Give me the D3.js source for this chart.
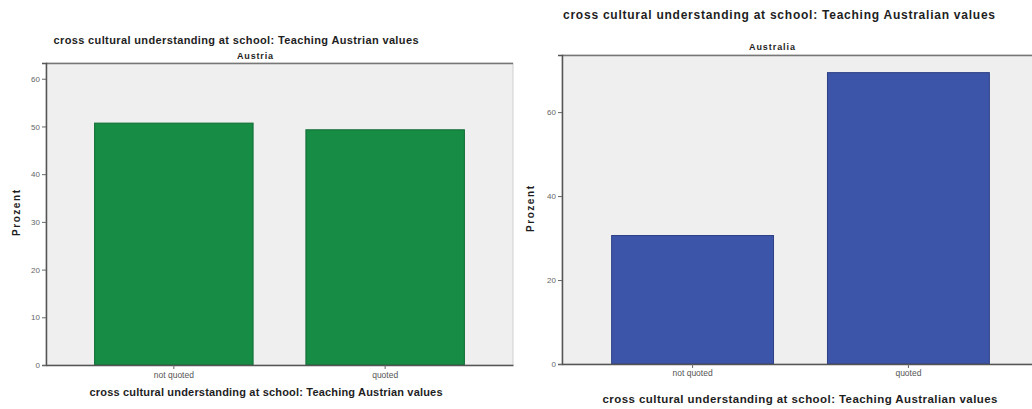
<!DOCTYPE html>
<html><head><meta charset="utf-8">
<script src="https://cdn.jsdelivr.net/npm/d3@7/dist/d3.min.js"></script>
<style>body{margin:0;background:#fff}svg{display:block}text{font-family:"Liberation Sans",Arial,sans-serif}</style>
</head><body>
<svg id="c" width="1032" height="409"></svg>
<script>
const categories = ["not quoted", "quoted"];
const austriaValues = [50.7, 49.3];
const australiaValues = [30.6, 69.4];
const austriaTicks = [0, 10, 20, 30, 40, 50, 60];
const australiaTicks = [0, 20, 40, 60];
const titles = ["cross cultural understanding at school: Teaching Austrian values",
                "cross cultural understanding at school: Teaching Australian values"];
const panelLabels = ["Austria", "Australia"];
const yLabel = "Prozent";

const svg = d3.select("#c");

function label(g, x, y, txt, size, len, rot) {
  const t = g.append("text").attr("text-anchor", "middle").attr("font-weight", "bold")
    .attr("font-size", size).attr("fill", "#1e1e1e").text(txt);
  if (rot) t.attr("transform", `translate(${x},${y}) rotate(-90)`);
  else t.attr("x", x).attr("y", y);
  if (len) t.attr("textLength", len).attr("lengthAdjust", "spacing");
  return t;
}

function panel(cfg) {
  const g = svg.append("g");
  const x = d3.scaleBand().domain(categories).range([cfg.left, cfg.right]).paddingInner(0.25).paddingOuter(0.23);
  const y = d3.scaleLinear().domain([0, cfg.ymax]).range([cfg.bottom, cfg.top]);
  g.append("rect").attr("x", cfg.left).attr("y", cfg.top).attr("width", cfg.right - cfg.left).attr("height", cfg.bottom - cfg.top)
    .attr("fill", "#efefef").attr("stroke", "#cfcfcf").attr("stroke-width", 1);
  g.append("line").attr("x1", cfg.left).attr("x2", cfg.right).attr("y1", cfg.top + 0.5).attr("y2", cfg.top + 0.5)
    .attr("stroke", "#777").attr("stroke-width", 1.5);
  g.selectAll("rect.bar").data(cfg.values).join("rect").attr("class", "bar")
    .attr("x", (d, i) => x(categories[i])).attr("width", x.bandwidth())
    .attr("y", d => y(d)).attr("height", d => cfg.bottom - y(d))
    .attr("fill", cfg.color).attr("stroke", cfg.stroke).attr("stroke-width", 1);
  const ya = g.append("g").attr("transform", `translate(${cfg.left},0)`)
    .call(d3.axisLeft(y).tickValues(cfg.ticks).tickSize(4).tickPadding(2).tickFormat(d3.format("d")));
  ya.select(".domain").attr("stroke", "#555").attr("stroke-width", 1.5);
  ya.selectAll(".tick line").attr("stroke", "#666");
  ya.selectAll(".tick text").style("fill", "#666").style("font-size", "8px").style("font-family", "Liberation Sans, Arial, sans-serif");
  const xa = g.append("g").attr("transform", `translate(0,${cfg.bottom})`)
    .call(d3.axisBottom(x).tickSize(4).tickPadding(cfg.xTickPad).tickSizeOuter(0));
  xa.select(".domain").attr("stroke", "#555").attr("stroke-width", 1.5);
  xa.selectAll(".tick line").attr("stroke", "#666");
  xa.selectAll(".tick text").style("fill", "#555").style("font-size", "8.5px").style("font-family", "Liberation Sans, Arial, sans-serif");
  label(g, cfg.titleX, cfg.titleY, cfg.title, cfg.titleSize, cfg.titleLen);
  label(g, cfg.panelX, cfg.panelY, cfg.panel, 9, cfg.panelLen);
  label(g, cfg.xTitleX, cfg.xTitleY, cfg.title, cfg.xTitleSize, cfg.xTitleLen);
  label(g, cfg.yLabX, cfg.yLabY, yLabel, 10, 46, true);
}

panel({left: 46, right: 513, top: 63, bottom: 365, ymax: 63.3, values: austriaValues, ticks: austriaTicks,
  color: "#178c45", stroke: "#0f6b33", title: titles[0], panel: panelLabels[0],
  titleX: 236, titleY: 44, titleSize: 11, titleLen: 365, panelX: 255, panelY: 59, panelLen: 36,
  xTitleX: 266, xTitleY: 396, xTitleSize: 11, xTitleLen: 353, xTickPad: 3, yLabX: 20, yLabY: 213});

panel({left: 562, right: 1039, top: 55, bottom: 364, ymax: 73.6, values: australiaValues, ticks: australiaTicks,
  color: "#3d55a8", stroke: "#2c3f85", title: titles[1], panel: panelLabels[1],
  titleX: 779, titleY: 19, titleSize: 12, titleLen: 432, panelX: 772, panelY: 50, panelLen: 46,
  xTitleX: 800, xTitleY: 403, xTitleSize: 11.5, xTitleLen: 395, xTickPad: 2, yLabX: 534, yLabY: 209});
</script>
</body></html>
